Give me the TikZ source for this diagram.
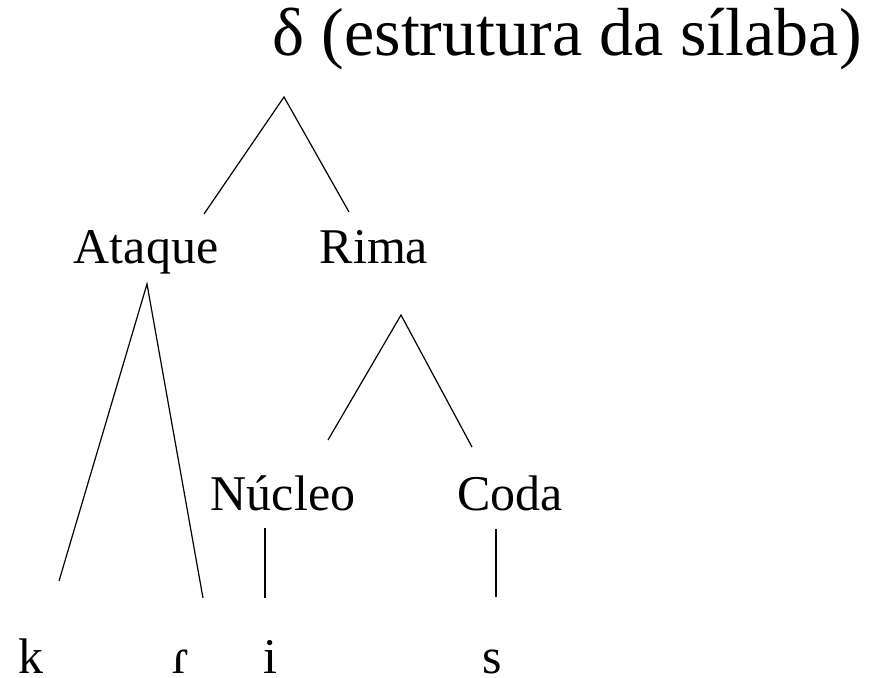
\documentclass[tikz,border=0pt]{standalone}
\usepackage{fontspec}
\setmainfont{Liberation Serif}
\begin{document}
\begin{tikzpicture}[x=0.75pt,y=-0.75pt,
  label/.style={inner sep=0pt,anchor=base,font=\fontsize{37.5}{40}\selectfont},
  headlabel/.style={inner sep=0pt,anchor=base east,font=\fontsize{51}{54}\selectfont},
  branch/.style={draw=black,line width=0.9pt}]
\useasboundingbox (0,0) rectangle (871,678);

% root label
\node[headlabel] (root) at (862,55) {δ (estrutura da sílaba)};

% constituents
\node[label] (ataque) at (146,263) {Ataque};
\node[label] (rima)   at (374,263) {Rima};
\node[label] (nucleo) at (283,510) {Núcleo};
\node[label] (coda)   at (510,510) {Coda};

% segments
\node[label] (k) at (31,673)  {k};
\node[label] (r) at (181,673) {ɾ};
\node[label] (i) at (270,673) {i};
\node[label] (s) at (492,673) {s};

% branch end points
\coordinate (rootfoot)   at (284,97);
\coordinate (ataquehead) at (204,214);
\coordinate (rimahead)   at (349,212);
\coordinate (ataquefoot) at (147,284);
\coordinate (khead)      at (59,581);
\coordinate (rhead)      at (203,598);
\coordinate (rimafoot)   at (401,315);
\coordinate (nucleohead) at (328,440);
\coordinate (codahead)   at (472,447);
\coordinate (nucleofoot) at (265,528);
\coordinate (ihead)      at (265,598);
\coordinate (codafoot)   at (496,529);
\coordinate (shead)      at (496,597);

% branches
\draw[branch] (ataquehead) -- (rootfoot) -- (rimahead);
\draw[branch] (khead) -- (ataquefoot) -- (rhead);
\draw[branch] (nucleohead) -- (rimafoot) -- (codahead);
\draw[branch] (nucleofoot) -- (ihead);
\draw[branch] (codafoot) -- (shead);
\end{tikzpicture}
\end{document}
